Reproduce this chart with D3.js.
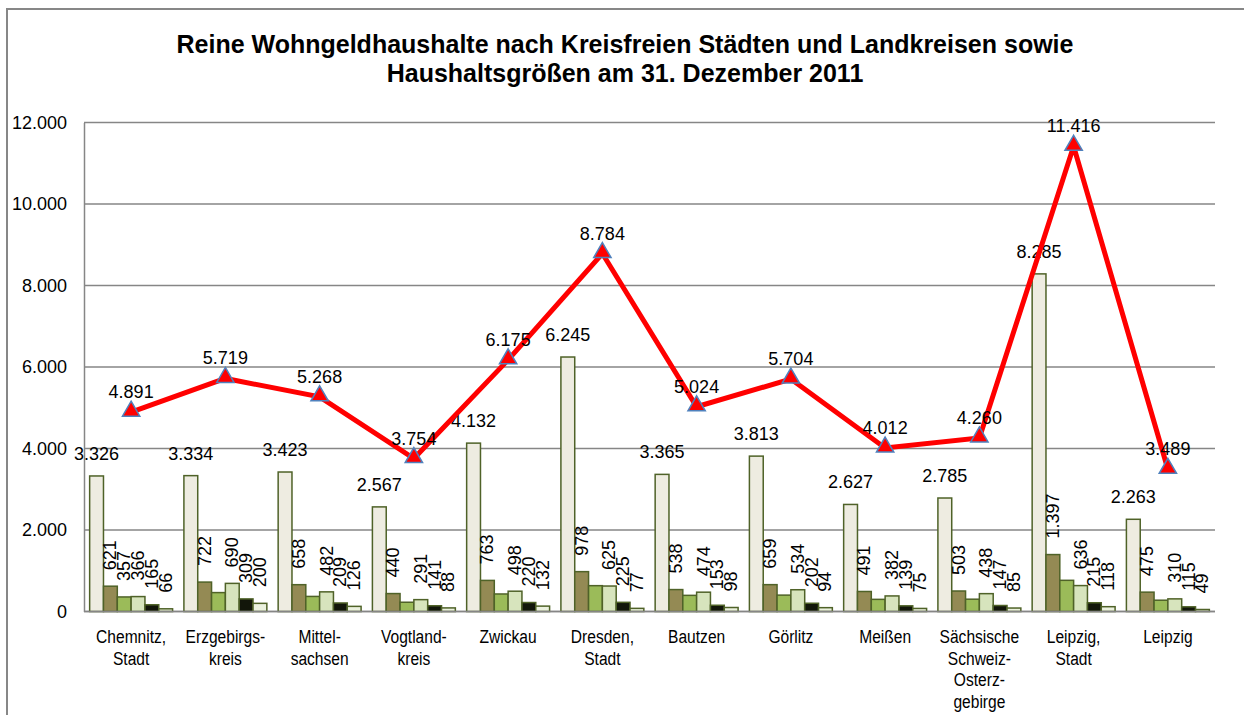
<!DOCTYPE html>
<html>
<head>
<meta charset="utf-8">
<script src="https://cdn.jsdelivr.net/npm/d3@7"></script>
<style>
	body { margin: 0; background: #fff; }
	text { font-family: "Liberation Sans", Arial, sans-serif; fill: #000; }
</style>
</head>
<body>
<div id="chart"></div>
<script>
// Kreisfreie Städte und Landkreise
var categories = [
	"Chemnitz,\nStadt", "Erzgebirgs-\nkreis", "Mittel-\nsachsen", "Vogtland-\nkreis",
	"Zwickau", "Dresden,\nStadt", "Bautzen", "Görlitz", "Meißen",
	"Sächsische\nSchweiz-\nOsterz-\ngebirge", "Leipzig,\nStadt", "Leipzig"
];

// Haushalte nach Haushaltsgröße
var seriesNames = ["1 Person", "2 Personen", "3 Personen", "4 Personen", "5 Personen", "6 und mehr Personen"];
var onePerson   = [3326, 3334, 3423, 2567, 4132, 6245, 3365, 3813, 2627, 2785, 8285, 2263];
var twoPersons  = [621, 722, 658, 440, 763, 978, 538, 659, 491, 503, 1397, 475];
var threePersons = [357, 464, 370, 227, 430, 634, 396, 402, 298, 302, 765, 277];
var fourPersons = [366, 690, 482, 291, 498, 625, 474, 534, 382, 438, 636, 310];
var fivePersons = [165, 309, 209, 141, 220, 225, 153, 202, 139, 147, 215, 115];
var sixPlus     = [66, 200, 126, 88, 132, 77, 98, 94, 75, 85, 118, 49];
var totals      = [4891, 5719, 5268, 3754, 6175, 8784, 5024, 5704, 4012, 4260, 11416, 3489];

// only the first district shows a label for the 3-person series
var threePersonsLabelled = ["Chemnitz,\nStadt"];

var yTicks = [0, 2000, 4000, 6000, 8000, 10000, 12000];

var seriesValues = [onePerson, twoPersons, threePersons, fourPersons, fivePersons, sixPlus];
var seriesColors = ["#EEECE1", "#948A54", "#9BBB59", "#D7E4BD", "#12160A", "#EBF1DE"];

var de = d3.formatLocale({ decimal: ",", thousands: ".", grouping: [3], currency: ["", " €"] });
var fmt = de.format(",d");

var width = 1244, height = 715;
var margin = { top: 122.5, right: 29, bottom: 103.5, left: 84 };

var svg = d3.select("#chart")
	.append("svg")
	.attr("width", width)
	.attr("height", height);

// chart frame
svg.append("rect")
	.attr("x", 7).attr("y", 9)
	.attr("width", 1270).attr("height", 730)
	.attr("fill", "#fff")
	.attr("stroke", "#878787")
	.attr("stroke-width", 2);

// title
var title = svg.append("text")
	.attr("text-anchor", "middle")
	.attr("font-size", 25)
	.attr("font-weight", "bold");
title.append("tspan").attr("x", 625).attr("y", 53).text("Reine Wohngeldhaushalte nach Kreisfreien Städten und Landkreisen sowie");
title.append("tspan").attr("x", 625).attr("y", 82).text("Haushaltsgrößen am 31. Dezember 2011");

var x0 = d3.scaleBand()
	.domain(categories)
	.range([margin.left, width - margin.right])
	.paddingInner(0.12)
	.paddingOuter(0.06);

var x1 = d3.scaleBand()
	.domain(d3.range(seriesNames.length))
	.range([0, x0.bandwidth()]);

var y = d3.scaleLinear()
	.domain([0, 12000])
	.range([height - margin.bottom, margin.top]);

// gridlines
svg.append("g")
	.selectAll("line")
	.data(yTicks)
	.enter()
	.append("line")
	.attr("x1", margin.left)
	.attr("x2", width - margin.right)
	.attr("y1", (d) => y(d))
	.attr("y2", (d) => y(d))
	.attr("stroke", "#868686")
	.attr("stroke-width", 1.5);

// y axis
var yAxis = svg.append("g")
	.attr("transform", "translate(" + margin.left + ",0)")
	.call(d3.axisLeft(y).tickValues(yTicks).tickFormat(fmt).tickSize(0).tickPadding(17));
yAxis.select(".domain").attr("stroke", "#868686").attr("stroke-width", 1.5);
yAxis.selectAll("text").attr("font-size", 18).attr("font-family", "Liberation Sans, Arial, sans-serif");

// bars
var groups = svg.append("g")
	.selectAll("g")
	.data(categories)
	.enter()
	.append("g")
	.attr("transform", (d) => "translate(" + x0(d) + ",0)");

groups.selectAll("rect")
	.data((d, i) => seriesValues.map((vals, s) => ({ s: s, v: vals[i], cat: d })))
	.enter()
	.append("rect")
	.attr("x", (d) => x1(d.s))
	.attr("width", x1.bandwidth())
	.attr("y", (d) => y(d.v))
	.attr("height", (d) => y(0) - y(d.v))
	.attr("fill", (d) => seriesColors[d.s])
	.attr("stroke", "#4F6228")
	.attr("stroke-width", 1.5);

// bar labels
groups.selectAll("text")
	.data((d, i) => seriesValues.map((vals, s) => ({ s: s, v: vals[i], cat: d }))
		.filter((d) => d.s != 2 || threePersonsLabelled.indexOf(d.cat) >= 0))
	.enter()
	.append("text")
	.attr("font-size", 18)
	.text((d) => fmt(d.v))
	.each(function (d) {
		var cx = x1(d.s) + x1.bandwidth() / 2;
		var ty = y(d.v) - 16;
		var t = d3.select(this);
		if (d.s == 0) {
			t.attr("x", cx).attr("y", ty).attr("text-anchor", "middle");
		} else {
			t.attr("x", cx).attr("y", ty)
				.attr("text-anchor", "start")
				.attr("dominant-baseline", "central")
				.attr("transform", "rotate(-90," + cx + "," + ty + ")");
		}
	});

// baseline
svg.append("line")
	.attr("x1", margin.left)
	.attr("x2", width - margin.right)
	.attr("y1", y(0))
	.attr("y2", y(0))
	.attr("stroke", "#868686")
	.attr("stroke-width", 1.5);

// category axis (narrow lettering)
var xAxis = svg.append("g")
	.attr("transform", "translate(0," + y(0) + ")")
	.call(d3.axisBottom(x0).tickSize(0).tickFormat(""));
xAxis.select(".domain").remove();
xAxis.selectAll(".tick")
	.append("text")
	.attr("font-size", 19)
	.attr("text-anchor", "middle")
	.attr("transform", "scale(0.82,1)")
	.selectAll("tspan")
	.data((d) => d.split("\n"))
	.enter()
	.append("tspan")
	.attr("x", 0)
	.attr("y", (d, i) => 32 + i * 21.5)
	.text((d) => d);

// total line
var line = d3.line()
	.x((d, i) => x0(categories[i]) + x0.bandwidth() / 2)
	.y((d) => y(d));

svg.append("path")
	.datum(totals)
	.attr("d", line)
	.attr("fill", "none")
	.attr("stroke", "#FF0000")
	.attr("stroke-width", 5)
	.attr("stroke-linejoin", "miter");

svg.append("g")
	.selectAll("path")
	.data(totals)
	.enter()
	.append("path")
	.attr("d", d3.symbol().type(d3.symbolTriangle).size(130))
	.attr("transform", (d, i) => "translate(" + (x0(categories[i]) + x0.bandwidth() / 2) + "," + (y(d) - 1) + ")")
	.attr("fill", "#FF0000")
	.attr("stroke", "#4F81BD")
	.attr("stroke-width", 1.5);

svg.append("g")
	.selectAll("text")
	.data(totals)
	.enter()
	.append("text")
	.attr("font-size", 18)
	.attr("text-anchor", "middle")
	.attr("x", (d, i) => x0(categories[i]) + x0.bandwidth() / 2)
	.attr("y", (d) => y(d) - 14)
	.text((d) => fmt(d));
</script>
</body>
</html>
